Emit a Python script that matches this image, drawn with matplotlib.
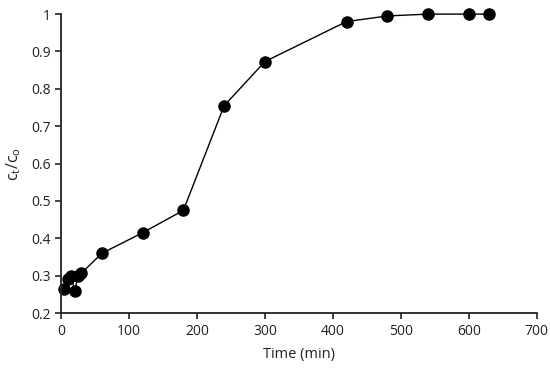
import matplotlib
matplotlib.use("Agg")
import matplotlib.pyplot as plt

time_min = [5, 10, 15, 20, 25, 30, 60, 120, 180, 240, 300, 420, 480, 540, 600, 630]
ct_c0 = [0.265, 0.29, 0.30, 0.258, 0.30, 0.307, 0.36, 0.415, 0.475, 0.755, 0.873, 0.98, 0.995, 1.0, 1.0, 1.0]
x_ticks = [0, 100, 200, 300, 400, 500, 600, 700]
y_ticks = [0.2, 0.3, 0.4, 0.5, 0.6, 0.7, 0.8, 0.9, 1.0]
y_tick_labels = ["0.2", "0.3", "0.4", "0.5", "0.6", "0.7", "0.8", "0.9", "1"]

plt.rcParams['font.family'] = ['Open Sans', 'DejaVu Sans']
fig = plt.figure(figsize=(5.5, 3.71), dpi=100)
ax = fig.add_axes([0.111, 0.156, 0.865, 0.806])
ax.plot(time_min, ct_c0, color='black', lw=1.0, marker='o', ms=8, mfc='black', mec='black', clip_on=False)
ax.set_xlim(0, 700)
ax.set_ylim(0.2, 1.0)
ax.set_xticks(x_ticks)
ax.set_yticks(y_ticks)
ax.set_yticklabels(y_tick_labels)
for s in ['top', 'right']:
    ax.spines[s].set_visible(False)
for s in ['left', 'bottom']:
    ax.spines[s].set_linewidth(1.3)
    ax.spines[s].set_color('#222222')
ax.tick_params(axis='both', labelsize=10, direction='out', length=4, width=1.2, colors='#222222')
ax.set_xlabel('Time (min)', fontsize=10.5, labelpad=6, color='#222222')
ax.set_ylabel(r'c$_\mathregular{t}$/c$_\mathregular{o}$', fontsize=11.5, labelpad=6, color='#222222')
fig.savefig('out.png', dpi=100)
